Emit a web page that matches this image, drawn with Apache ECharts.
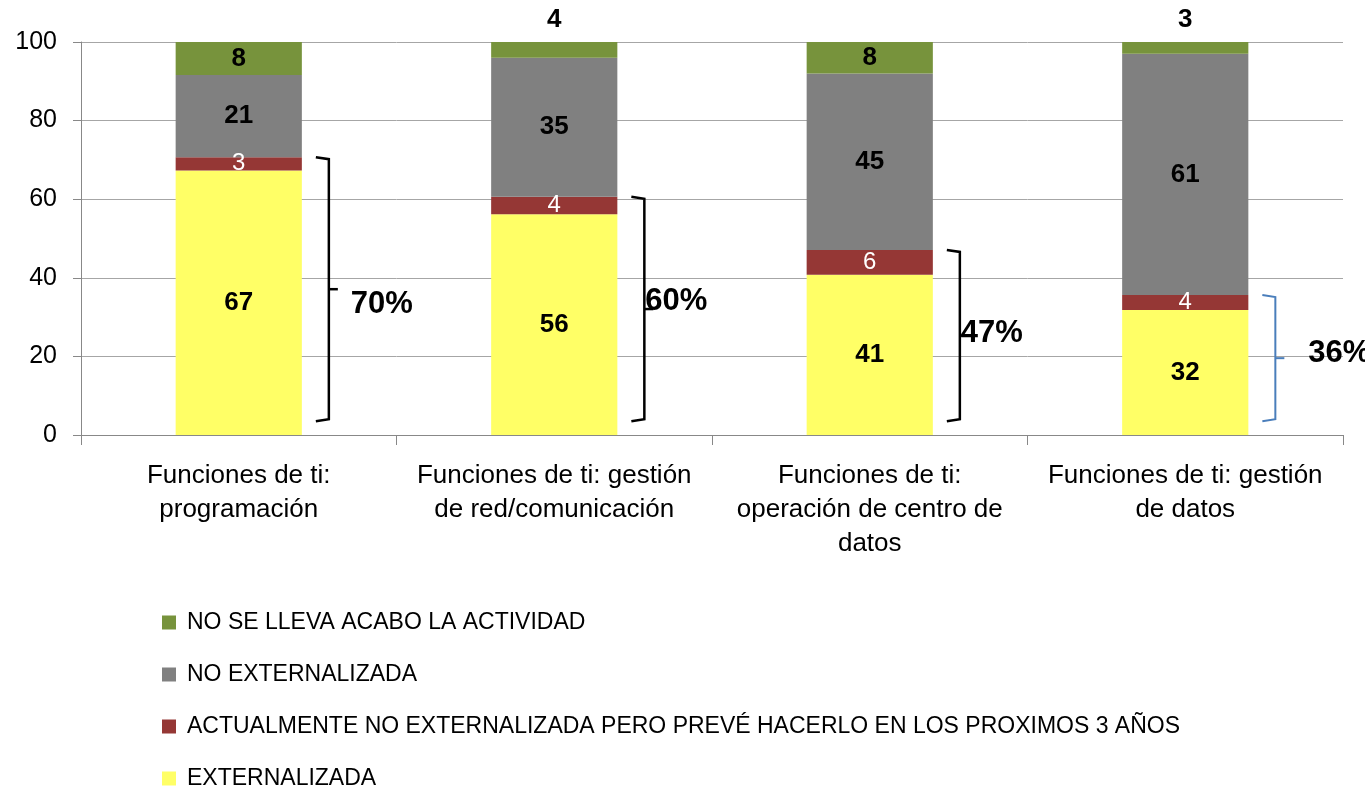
<!DOCTYPE html>
<html>
<head>
<meta charset="utf-8">
<script src="https://cdn.jsdelivr.net/npm/echarts@6/dist/echarts.min.js"></script>
<style>
  html, body { margin: 0; padding: 0; background: #fff; }
  #chart { width: 1365px; height: 787px; }
</style>
</head>
<body>
<div id="chart"></div>
<script>
// categorias del eje x
var categories = [
  'Funciones de ti:\nprogramación',
  'Funciones de ti: gestión\nde red/comunicación',
  'Funciones de ti:\noperación de centro de\ndatos',
  'Funciones de ti: gestión\nde datos'
];
var seriesNames = [
  'EXTERNALIZADA',
  'ACTUALMENTE NO EXTERNALIZADA PERO PREVÉ HACERLO EN LOS PROXIMOS 3 AÑOS',
  'NO EXTERNALIZADA',
  'NO SE LLEVA ACABO LA ACTIVIDAD'
];
// valores (%)
var externalizada = [67.3, 56.2, 40.8, 31.8];
var prevista = [3.4, 4.4, 6.3, 3.8];
var noExternalizada = [20.9, 35.4, 44.9, 61.4];
var noActividad = [8.4, 4.0, 8.0, 3.0];
// llaves con porcentaje
var bracketPct = [70, 60, 47, 36];
var bracketLow = [3.5, 3.5, 3.5, 3.5];
var yTicks = [0, 20, 40, 60, 80, 100];

var colors = ['#FFFF66', '#953735', '#808080', '#77933C'];
var fontFam = "'Liberation Sans', Arial, sans-serif";
var bracketColors = ['#000', '#000', '#000', '#4A7EBB'];
var pctShift = [[22, 15], [1, -8], [1, -2], [33, -5]];

var chart = echarts.init(document.getElementById('chart'));

var boldLabel = {
  show: true,
  position: 'inside',
  color: '#000',
  fontWeight: 'bold',
  fontSize: 26,
  fontFamily: fontFam,
  formatter: function (p) { return Math.round(p.value); }
};

function barSeries(name, values, color, label) {
  return {
    name: name,
    type: 'bar',
    stack: 'total',
    barWidth: '40%',
    itemStyle: { color: color },
    label: label,
    data: values.map(function (v) { return v; })
  };
}

var bracketData = bracketPct.map(function (p, i) {
  return [i, bracketLow[i], externalizada[i] + prevista[i], p];
});

var option = {
  animation: false,
  backgroundColor: '#fff',
  grid: { left: 81, right: 22, top: 42, bottom: 352 },
  legend: {
    orient: 'vertical',
    left: 162,
    top: 611,
    height: 260,
    padding: 0,
    itemWidth: 14,
    itemHeight: 14,
    itemGap: 29,
    icon: 'rect',
    data: [seriesNames[3], seriesNames[2], seriesNames[1], seriesNames[0]],
    textStyle: {
      fontSize: 23, lineHeight: 22, color: '#000', fontFamily: fontFam,
      padding: [0, 0, 0, 6]
    }
  },
  xAxis: {
    type: 'category',
    data: categories,
    axisLine: { lineStyle: { color: '#888', width: 1 } },
    axisTick: { show: true, length: 10, lineStyle: { color: '#888' } },
    axisLabel: {
      color: '#000', fontSize: 26, lineHeight: 34, margin: 24,
      fontFamily: fontFam, interval: 0
    }
  },
  yAxis: {
    type: 'value',
    min: yTicks[0],
    max: yTicks[yTicks.length - 1],
    interval: 20,
    axisLine: { show: true, lineStyle: { color: '#888' } },
    axisTick: { show: true, length: 8, lineStyle: { color: '#888' } },
    splitLine: { lineStyle: { color: '#a6a6a6' } },
    axisLabel: { color: '#000', fontSize: 25, margin: 24, fontFamily: fontFam }
  },
  series: [
    barSeries(seriesNames[0], externalizada, colors[0], boldLabel),
    barSeries(seriesNames[1], prevista, colors[1], {
      show: true, position: 'inside', color: '#fff', fontSize: 24, fontFamily: fontFam,
      formatter: function (p) { return Math.round(p.value); }
    }),
    barSeries(seriesNames[2], noExternalizada, colors[2], boldLabel),
    {
      name: seriesNames[3],
      type: 'bar',
      stack: 'total',
      barWidth: '40%',
      itemStyle: { color: colors[3] },
      label: boldLabel,
      data: noActividad.map(function (v) {
        // etiquetas pequeñas van encima de la barra
        if (v < 5) return { value: v, label: { position: 'top', distance: 9 } };
        return v;
      })
    },
    {
      type: 'custom',
      silent: true,
      z: 10,
      data: bracketData,
      renderItem: function (params, api) {
        var i = api.value(0);
        var xc = api.coord([i, 0])[0];
        var half = api.size([1, 0])[0] * 0.2;
        var yTop = api.coord([i, api.value(2)])[1];
        var yBot = api.coord([i, api.value(1)])[1];
        var yMid = (yTop + yBot) / 2;
        var xv = xc + half + 27;
        var x0 = xc + half + 14;
        var col = bracketColors[i];
        var lw = i === 3 ? 2 : 2.5;
        return {
          type: 'group',
          children: [
            {
              type: 'polyline',
              shape: { points: [[x0, yTop], [xv, yTop + 2], [xv, yBot - 2], [x0, yBot]] },
              style: { stroke: col, lineWidth: lw, fill: null }
            },
            {
              type: 'line',
              shape: { x1: xv, y1: yMid, x2: xv + 9, y2: yMid },
              style: { stroke: col, lineWidth: lw }
            },
            {
              type: 'text',
              style: {
                text: api.value(3) + '%',
                x: xv + pctShift[i][0],
                y: yMid + pctShift[i][1],
                verticalAlign: 'middle',
                align: 'left',
                fill: '#000',
                font: 'bold 31px ' + fontFam
              }
            }
          ]
        };
      }
    }
  ]
};

chart.setOption(option);
</script>
</body>
</html>
